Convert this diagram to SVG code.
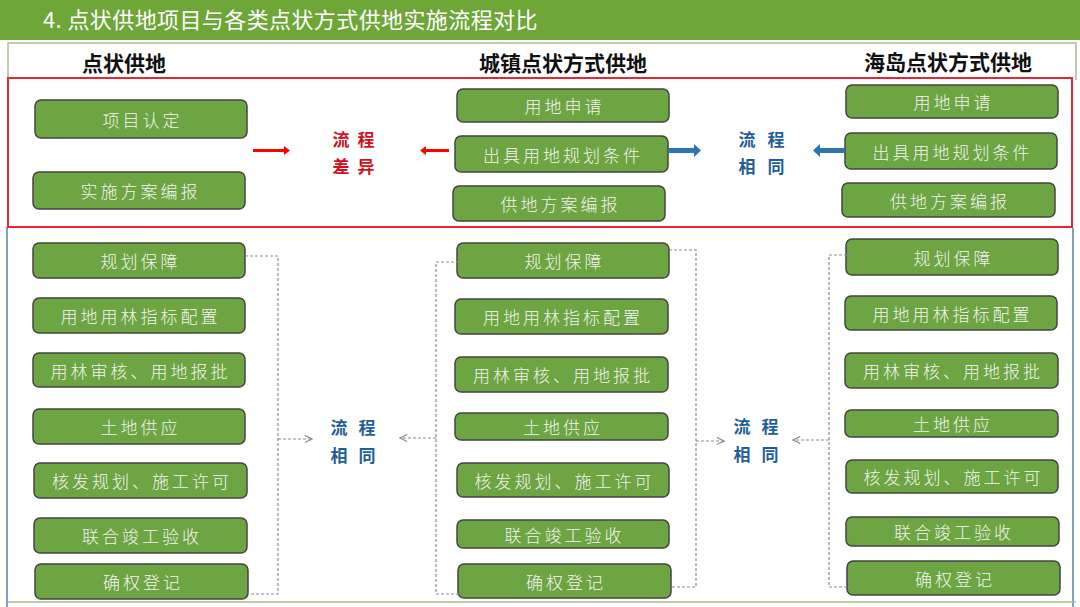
<svg xmlns="http://www.w3.org/2000/svg" width="1080" height="607" viewBox="0 0 1080 607">
<defs>
<style>
.bx rect{fill:#6ca541;stroke:#444;stroke-width:1.5}
.bx text{font-family:"Noto Sans CJK SC","Noto Sans",sans-serif;font-size:17px;fill:#f4f4f4;letter-spacing:3px;text-anchor:middle;dominant-baseline:central;font-weight:300}
.hd{font-family:"Noto Sans CJK SC",sans-serif;font-size:21px;font-weight:bold;fill:#111;text-anchor:middle}
.lbl{font-family:"Noto Sans CJK SC",sans-serif;font-size:17px;font-weight:bold;text-anchor:middle;dominant-baseline:central}
.red{fill:#d0101c}
.blu{fill:#1f5e98}
.dash{fill:none;stroke:#8c8c8c;stroke-width:1.2;stroke-dasharray:3 2}
</style>
<marker id="oa" viewBox="0 0 10 10" refX="9" refY="5" markerWidth="9" markerHeight="9" markerUnits="userSpaceOnUse" orient="auto">
<path d="M1,1 L9,5 L1,9" fill="none" stroke="#8c8c8c" stroke-width="1.3"/>
</marker>
</defs>
<rect x="0" y="0" width="1080" height="607" fill="#fff"/>
<rect x="0" y="0" width="1080" height="40" fill="#6ea638"/>
<text x="43" y="28" font-family="'Noto Sans CJK SC',sans-serif" font-size="22" fill="#fff" letter-spacing="0.4">4. 点状供地项目与各类点状方式供地实施流程对比</text>
<g id="frame" fill="none">
<path d="M8,227 V43 H1076 V80" stroke="#a8c08e" stroke-width="1.5"/>
<path d="M7,227 V607" stroke="#7f9fc6" stroke-width="2"/>
<path d="M1073,228 V607" stroke="#7f9fc6" stroke-width="2"/>
<path d="M8,602 H1076" stroke="#a8c08e" stroke-width="1.5"/>
<rect x="8" y="78" width="1064" height="149" stroke="#e8262d" stroke-width="2"/>
</g>
<text class="hd" x="124" y="71">点状供地</text>
<text class="hd" x="563" y="71">城镇点状方式供地</text>
<text class="hd" x="948" y="70">海岛点状方式供地</text>
<g id="n1" class="bx"><rect x="35" y="100" width="212" height="38" rx="6"/><text x="142.5" y="119">项目认定</text></g>
<g id="n2" class="bx"><rect x="33" y="172" width="212" height="37" rx="6"/><text x="140.5" y="190.5">实施方案编报</text></g>
<g id="n3" class="bx"><rect x="457" y="89" width="212" height="33" rx="6"/><text x="564.5" y="105.5">用地申请</text></g>
<g id="n4" class="bx"><rect x="455" y="136" width="213" height="36" rx="6"/><text x="563" y="154">出具用地规划条件</text></g>
<g id="n5" class="bx"><rect x="453" y="186" width="212" height="35" rx="6"/><text x="560.5" y="203.5">供地方案编报</text></g>
<g id="n6" class="bx"><rect x="846" y="85" width="212" height="33" rx="6"/><text x="953.5" y="101.5">用地申请</text></g>
<g id="n7" class="bx"><rect x="845" y="133" width="212" height="36" rx="6"/><text x="952.5" y="151">出具用地规划条件</text></g>
<g id="n8" class="bx"><rect x="842" y="183" width="213" height="34" rx="6"/><text x="950" y="200">供地方案编报</text></g>
<g id="n9" class="bx"><rect x="33" y="243" width="212" height="35" rx="6"/><text x="140.5" y="260.5">规划保障</text></g>
<g id="n10" class="bx"><rect x="33" y="298" width="212" height="35" rx="6"/><text x="140.5" y="315.5">用地用林指标配置</text></g>
<g id="n11" class="bx"><rect x="33" y="353" width="212" height="34" rx="6"/><text x="140.5" y="370">用林审核、用地报批</text></g>
<g id="n12" class="bx"><rect x="33" y="409" width="212" height="35" rx="6"/><text x="140.5" y="426.5">土地供应</text></g>
<g id="n13" class="bx"><rect x="34" y="463" width="213" height="35" rx="6"/><text x="142" y="480.5">核发规划、施工许可</text></g>
<g id="n14" class="bx"><rect x="34" y="518" width="213" height="35" rx="6"/><text x="142" y="535.5">联合竣工验收</text></g>
<g id="n15" class="bx"><rect x="35" y="564" width="213" height="35" rx="6"/><text x="143" y="581.5">确权登记</text></g>
<g id="n16" class="bx"><rect x="457" y="243" width="212" height="35" rx="6"/><text x="564.5" y="260.5">规划保障</text></g>
<g id="n17" class="bx"><rect x="455" y="299" width="213" height="35" rx="6"/><text x="563" y="316.5">用地用林指标配置</text></g>
<g id="n18" class="bx"><rect x="455" y="357" width="213" height="35" rx="6"/><text x="563" y="374.5">用林审核、用地报批</text></g>
<g id="n19" class="bx"><rect x="455" y="413" width="213" height="27" rx="6"/><text x="563" y="426.5">土地供应</text></g>
<g id="n20" class="bx"><rect x="457" y="463" width="212" height="34" rx="6"/><text x="564.5" y="480">核发规划、施工许可</text></g>
<g id="n21" class="bx"><rect x="457" y="520" width="212" height="28" rx="6"/><text x="564.5" y="534">联合竣工验收</text></g>
<g id="n22" class="bx"><rect x="458" y="564" width="213" height="34" rx="6"/><text x="566" y="581">确权登记</text></g>
<g id="n23" class="bx"><rect x="846" y="239" width="212" height="36" rx="6"/><text x="953.5" y="257">规划保障</text></g>
<g id="n24" class="bx"><rect x="845" y="296" width="212" height="34" rx="6"/><text x="952.5" y="313">用地用林指标配置</text></g>
<g id="n25" class="bx"><rect x="845" y="353" width="213" height="35" rx="6"/><text x="953" y="370.5">用林审核、用地报批</text></g>
<g id="n26" class="bx"><rect x="845" y="410" width="213" height="27" rx="6"/><text x="953" y="423.5">土地供应</text></g>
<g id="n27" class="bx"><rect x="846" y="460" width="212" height="33" rx="6"/><text x="953.5" y="476.5">核发规划、施工许可</text></g>
<g id="n28" class="bx"><rect x="846" y="517" width="213" height="29" rx="6"/><text x="954" y="531.5">联合竣工验收</text></g>
<g id="n29" class="bx"><rect x="847" y="561" width="213" height="34" rx="6"/><text x="955" y="578">确权登记</text></g>
<g id="labels">
<text class="lbl red" x="341" y="138">流</text><text class="lbl red" x="366" y="138">程</text>
<text class="lbl red" x="341" y="165">差</text><text class="lbl red" x="366" y="165">异</text>
<text class="lbl blu" x="747" y="138">流</text><text class="lbl blu" x="776" y="138">程</text>
<text class="lbl blu" x="747" y="165">相</text><text class="lbl blu" x="776" y="165">同</text>
<text class="lbl blu" x="339" y="426">流</text><text class="lbl blu" x="367" y="426">程</text>
<text class="lbl blu" x="339" y="454">相</text><text class="lbl blu" x="367" y="454">同</text>
<text class="lbl blu" x="742" y="425">流</text><text class="lbl blu" x="770" y="425">程</text>
<text class="lbl blu" x="742" y="453">相</text><text class="lbl blu" x="770" y="453">同</text>
</g>
<g id="connectors">
<polygon points="253,149 284,149 284,146 290,150.5 284,155 284,152 253,152" fill="#f00"/>
<polygon points="449,149 426,149 426,146 420,150.5 426,155 426,152 449,152" fill="#f00"/>
<polygon points="668,148 694,148 694,144 701,150.5 694,157 694,153 668,153" fill="#2e74b0"/>
<polygon points="845,148 820,148 820,144 813,150.5 820,157 820,153 845,153" fill="#2e74b0"/>
<path class="dash" d="M245,256 H278 V594 H248"/>
<path class="dash" d="M278,439 H312" marker-end="url(#oa)"/>
<path class="dash" d="M464,262 H436 V594 H464"/>
<path class="dash" d="M436,438 H400" marker-end="url(#oa)"/>
<path class="dash" d="M664,250 H696 V587 H664"/>
<path class="dash" d="M696,441 H724" marker-end="url(#oa)"/>
<path class="dash" d="M857,255 H829 V587 H857"/>
<path class="dash" d="M829,440 H793" marker-end="url(#oa)"/>
</g>
</svg>
